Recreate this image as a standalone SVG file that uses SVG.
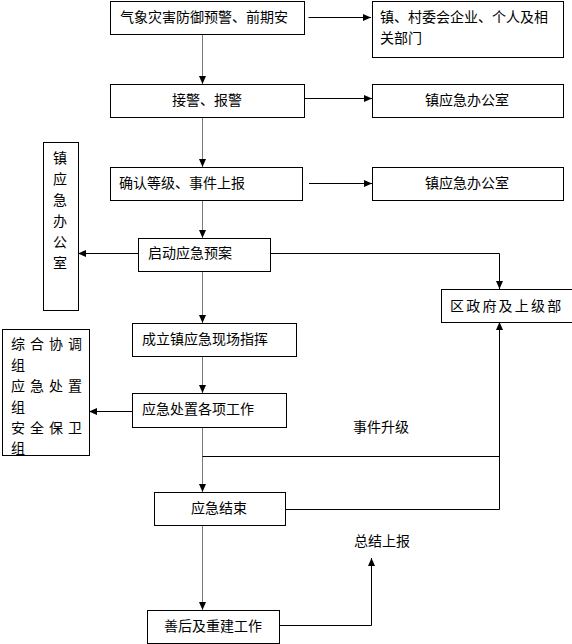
<svg xmlns="http://www.w3.org/2000/svg" width="572" height="644" viewBox="0 0 572 644">
<style>
.box{fill:#fff;stroke:#000;stroke-width:1}
.t{font-family:"Noto Sans CJK SC","Noto Sans",sans-serif;font-size:14px;fill:#000}
.m{text-anchor:middle}
.c{fill:none;stroke:#000;stroke-width:1}
.g{stroke:#7a7a7a}
.s{letter-spacing:5px}
</style>
<defs>
<marker id="ah" markerUnits="userSpaceOnUse" markerWidth="8" markerHeight="8" refX="8" refY="4" orient="auto">
<path d="M0,0.5 L8,4 L0,7.5 z" fill="#000"/>
</marker>
</defs>
<rect width="572" height="644" fill="#fff"/>
<g id="connectors">
<path class="c" d="M308.5,17.5 H371" marker-end="url(#ah)"/>
<path class="c g" d="M202.5,34 V84" marker-end="url(#ah)"/>
<path class="c" d="M304,98.5 H372" marker-end="url(#ah)"/>
<path class="c g" d="M202.5,117 V167" marker-end="url(#ah)"/>
<path class="c" d="M309,183.5 H372" marker-end="url(#ah)"/>
<path class="c g" d="M202.5,200 V238" marker-end="url(#ah)"/>
<path class="c" d="M138,253.5 H78" marker-end="url(#ah)"/>
<path class="c" d="M270,253.5 H499.5 V289" marker-end="url(#ah)"/>
<path class="c g" d="M202.5,271 V323" marker-end="url(#ah)"/>
<path class="c g" d="M202.5,356 V393" marker-end="url(#ah)"/>
<path class="c" d="M132,411.5 H89" marker-end="url(#ah)"/>
<path class="c g" d="M202.5,427 V492" marker-end="url(#ah)"/>
<path class="c" d="M202.5,456.5 H499.5"/>
<path class="c" d="M285,509.5 H499.5 V322" marker-end="url(#ah)"/>
<path class="c g" d="M202.5,525 V610" marker-end="url(#ah)"/>
<path class="c" d="M279,625.5 H371.5 V558" marker-end="url(#ah)"/>
</g>
<g id="n1"><rect class="box" x="110.5" y="1.5" width="194" height="33"/><text class="t" x="120" y="22">气象灾害防御预警、前期安</text></g>
<g id="n2"><rect class="box" x="372.5" y="1.5" width="191" height="56"/><text class="t" x="380" y="22">镇、村委会企业、个人及相</text><text class="t" x="380" y="43">关部门</text></g>
<g id="n3"><rect class="box" x="110.5" y="84.5" width="194" height="33"/><text class="t m" x="207" y="105">接警、报警</text></g>
<g id="n4"><rect class="box" x="372.5" y="84.5" width="191" height="33"/><text class="t m" x="467" y="105">镇应急办公室</text></g>
<g id="n5"><rect class="box" x="110.5" y="167.5" width="192" height="33"/><text class="t" x="119" y="188">确认等级、事件上报</text></g>
<g id="n6"><rect class="box" x="372.5" y="167.5" width="191" height="33"/><text class="t m" x="467" y="188">镇应急办公室</text></g>
<g id="n7"><rect class="box" x="138.5" y="238.5" width="132" height="33"/><text class="t" x="148" y="258">启动应急预案</text></g>
<g id="n8"><rect class="box" x="43.5" y="142.5" width="35" height="168"/>
<text class="t m" x="60" y="163">镇</text><text class="t m" x="60" y="184">应</text><text class="t m" x="60" y="205">急</text><text class="t m" x="60" y="226">办</text><text class="t m" x="60" y="247">公</text><text class="t m" x="60" y="268">室</text></g>
<g id="n9"><rect class="box" x="441.5" y="289.5" width="131" height="33"/><text class="t" x="450" y="311" letter-spacing="2.2">区政府及上级部</text></g>
<g id="n10"><rect class="box" x="132.5" y="323.5" width="164" height="33"/><text class="t" x="142" y="344">成立镇应急现场指挥</text></g>
<g id="n11"><rect class="box" x="132.5" y="393.5" width="154" height="34"/><text class="t" x="142" y="414">应急处置各项工作</text></g>
<g id="n12"><rect class="box" x="2.5" y="329.5" width="87" height="126"/>
<text class="t s" x="11" y="349">综合协调</text><text class="t" x="11" y="370">组</text>
<text class="t s" x="11" y="391">应急处置</text><text class="t" x="11" y="412">组</text>
<text class="t s" x="11" y="433">安全保卫</text><text class="t" x="11" y="453">组</text></g>
<g id="n13"><text class="t" x="353" y="432">事件升级</text></g>
<g id="n14"><rect class="box" x="154.5" y="492.5" width="131" height="33"/><text class="t m" x="219" y="513">应急结束</text></g>
<g id="n15"><text class="t" x="354" y="546">总结上报</text></g>
<g id="n16"><rect class="box" x="147.5" y="610.5" width="132" height="33"/><text class="t m" x="213" y="631">善后及重建工作</text></g>
</svg>
